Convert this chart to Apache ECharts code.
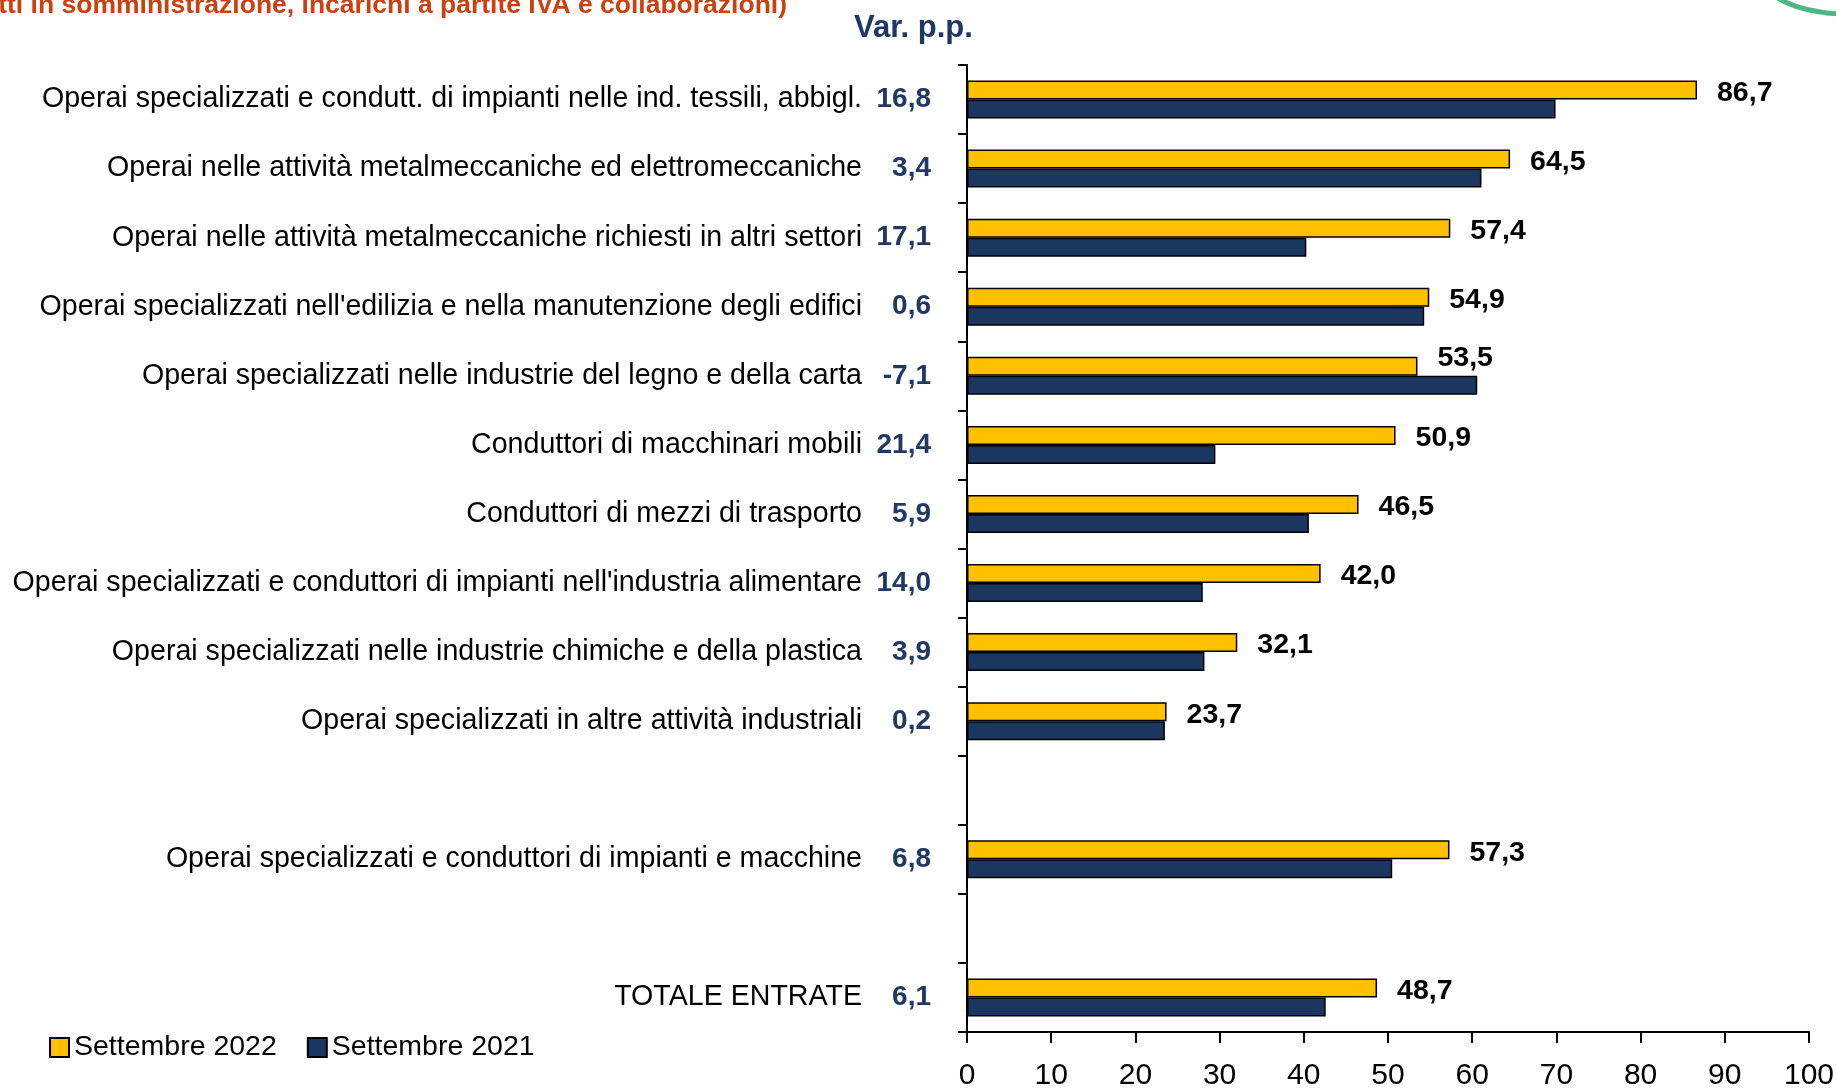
<!DOCTYPE html>
<html>
<head>
<meta charset="utf-8">
<title>Entrate previste - operai e conduttori</title>
<script src="https://cdn.jsdelivr.net/npm/echarts@6/dist/echarts.min.js"></script>
<style>
    html, body { margin: 0; padding: 0; background: #fff; }
    #chart { width: 1836px; height: 1090px; }
</style>
</head>
<body>
<div id="chart"></div>
<script>
// righe del grafico ('' = riga vuota di separazione)
const categorie = [
    'Operai specializzati e condutt. di impianti nelle ind. tessili, abbigl.',
    'Operai nelle attività metalmeccaniche ed elettromeccaniche',
    'Operai nelle attività metalmeccaniche richiesti in altri settori',
    "Operai specializzati nell'edilizia e nella manutenzione degli edifici",
    'Operai specializzati nelle industrie del legno e della carta',
    'Conduttori di macchinari mobili',
    'Conduttori di mezzi di trasporto',
    "Operai specializzati e conduttori di impianti nell'industria alimentare",
    'Operai specializzati nelle industrie chimiche e della plastica',
    'Operai specializzati in altre attività industriali',
    '',
    'Operai specializzati e conduttori di impianti e macchine',
    '',
    'TOTALE ENTRATE'
];
const set2022 = [86.7, 64.5, 57.4, 54.9, 53.5, 50.9, 46.5, 42.0, 32.1, 23.7, null, 57.3, null, 48.7];
const set2021 = [69.9, 61.1, 40.3, 54.3, 60.6, 29.5, 40.6, 28.0, 28.2, 23.5, null, 50.5, null, 42.6];
const varPP = ['16,8', '3,4', '17,1', '0,6', '-7,1', '21,4', '5,9', '14,0', '3,9', '0,2', '', '6,8', '', '6,1'];
const tickX = [0, 10, 20, 30, 40, 50, 60, 70, 80, 90, 100];

const SANS = '"Liberation Sans", Arial, sans-serif';

// 86.7 -> "86,7"
function fmt(v) {
    return v.toFixed(1).replace('.', ',');
}

var myChart = echarts.init(document.getElementById('chart'));

var option = {
    animation: false,
    title: {
        text: 'Var. p.p.',
        left: 849,
        top: 8,
        textStyle: { fontFamily: SANS, fontWeight: 'bold', fontSize: 31, color: '#1f3864' }
    },
    legend: {
        left: 44,
        top: 1028,
        icon: 'rect',
        itemWidth: 19,
        itemHeight: 19,
        itemGap: 30,
        textStyle: { fontFamily: SANS, fontSize: 28.5, color: '#000' },
        data: ['Settembre 2022', 'Settembre 2021']
    },
    grid: { left: 967, right: 27, top: 65, bottom: 58, containLabel: false, outerBoundsMode: 'none' },
    xAxis: {
        type: 'value',
        min: tickX[0],
        max: tickX[tickX.length - 1],
        interval: tickX[1] - tickX[0],
        splitLine: { show: false },
        axisLine: { show: true, lineStyle: { color: '#000', width: 2 } },
        axisTick: { show: true, length: 11, lineStyle: { color: '#000', width: 2 } },
        axisLabel: { fontFamily: SANS, fontSize: 30, color: '#000', margin: 29 }
    },
    yAxis: [
        {
            type: 'category',
            inverse: true,
            data: categorie,
            axisLine: { show: true, lineStyle: { color: '#000', width: 2 } },
            axisTick: { show: true, alignWithLabel: false, interval: 0, length: 9, lineStyle: { color: '#000', width: 2 } },
            axisLabel: { fontFamily: SANS, fontSize: 28.6, color: '#000', margin: 105, interval: 0, padding: [5, 0, 0, 0] }
        },
        {
            // colonna delle variazioni in punti percentuali
            type: 'category',
            position: 'left',
            inverse: true,
            data: varPP,
            axisLine: { show: false },
            axisTick: { show: false },
            axisLabel: { fontFamily: SANS, fontWeight: 'bold', fontSize: 28, color: '#1f3864', margin: 36, interval: 0, padding: [5, 0, 0, 0] }
        }
    ],
    series: [
        {
            name: 'Settembre 2022',
            type: 'bar',
            barWidth: 19,
            barGap: '0%',
            data: set2022.map(function (v, i) {
                // l'etichetta del legno sta un po' piu' in alto
                return i === 4 ? { value: v, label: { offset: [0, -8] } } : v;
            }),
            itemStyle: { color: '#ffc000', borderColor: '#000', borderWidth: 1.5 },
            label: {
                show: true,
                position: 'right',
                distance: 20,
                offset: [0, 3],
                fontFamily: SANS,
                fontWeight: 'bold',
                fontSize: 28.5,
                color: '#000',
                formatter: function (p) { return fmt(p.value); }
            }
        },
        {
            name: 'Settembre 2021',
            type: 'bar',
            barWidth: 19,
            data: set2021,
            itemStyle: { color: '#1b375f', borderColor: '#000', borderWidth: 1.5 }
        }
    ],
    graphic: [
        {
            // titolo tagliato in alto
            type: 'text',
            x: 787,
            y: 19,
            style: {
                text: '(contratti in somministrazione, incarichi a partite IVA e collaborazioni)',
                fontFamily: SANS,
                fontWeight: 'bold',
                fontSize: 26.5,
                fill: '#cc4010',
                align: 'right',
                verticalAlign: 'bottom'
            }
        },
        {
            // arco verde del logo
            type: 'bezierCurve',
            shape: { x1: 1776, y1: -3, cpx1: 1800, cpy1: 12, x2: 1840, y2: 14 },
            style: { stroke: '#4cb782', lineWidth: 5, fill: null }
        }
    ]
};

myChart.setOption(option);
</script>
</body>
</html>
